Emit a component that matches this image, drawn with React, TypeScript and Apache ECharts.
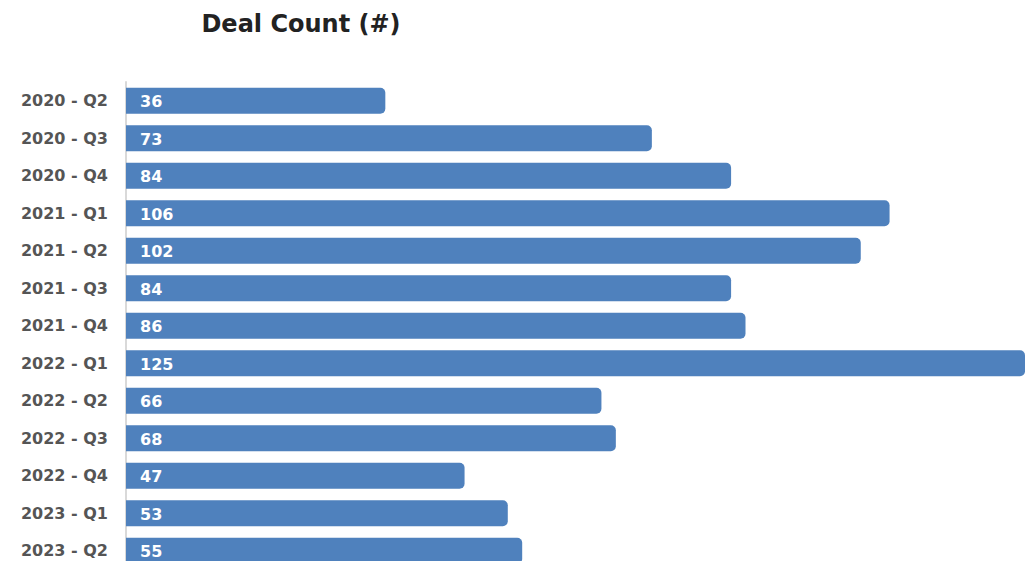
import React, { useEffect, useRef } from "react";
import * as echarts from "echarts";

const quarters = [
  "2020 - Q2", "2020 - Q3", "2020 - Q4",
  "2021 - Q1", "2021 - Q2", "2021 - Q3", "2021 - Q4",
  "2022 - Q1", "2022 - Q2", "2022 - Q3", "2022 - Q4",
  "2023 - Q1", "2023 - Q2",
];
const dealCounts = [36, 73, 84, 106, 102, 84, 86, 125, 66, 68, 47, 53, 55];

const FONT = "'DejaVu Sans', sans-serif";

export default function App() {
  const ref = useRef<HTMLDivElement>(null);

  useEffect(() => {
    if (!ref.current) return;
    const chart = echarts.init(ref.current, undefined, { renderer: "svg" });
    chart.setOption({
      animation: false,
      title: {
        text: "Deal Count (#)",
        left: 296,
        top: 7,
        textAlign: "center",
        textStyle: { fontFamily: FONT, fontSize: 24, fontWeight: 700, color: "#222" },
      },
      grid: { left: 126, right: 0, top: 82, height: 487.5, containLabel: false },
      xAxis: {
        type: "value",
        min: 0,
        max: 124.8,
        show: false,
      },
      yAxis: {
        type: "category",
        data: quarters,
        inverse: true,
        axisLine: { show: true, lineStyle: { color: "#d9d9d9", width: 2 } },
        axisTick: { show: false },
        axisLabel: {
          fontFamily: FONT,
          fontSize: 16,
          fontWeight: 700,
          color: "#555",
          margin: 18,
        },
      },
      series: [
        {
          type: "bar",
          data: dealCounts,
          barWidth: 26,
          itemStyle: { color: "#4F81BD", borderRadius: [0, 5, 5, 0] },
          label: {
            show: true,
            position: "insideLeft",
            offset: [9, 1],
            fontFamily: FONT,
            fontSize: 16,
            fontWeight: 700,
            color: "#fff",
          },
        },
      ],
    });
    return () => chart.dispose();
  }, []);

  return (
    <div style={{ position: "fixed", left: 0, top: 0, width: 1025, height: 561, overflow: "hidden", background: "#fff" }}>
      <div ref={ref} style={{ width: 1025, height: 578 }} />
    </div>
  );
}
